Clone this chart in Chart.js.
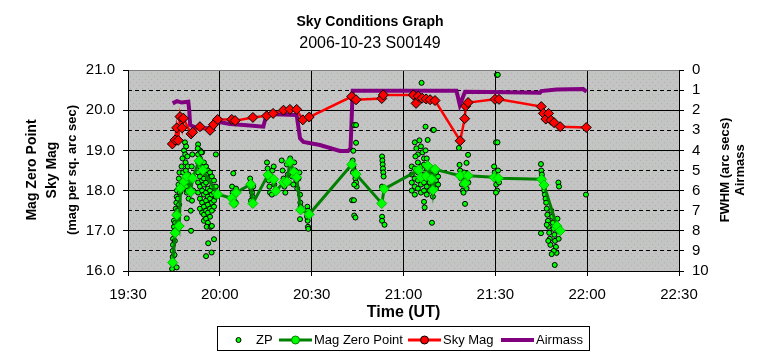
<!DOCTYPE html>
<html>
<head>
<meta charset="utf-8">
<script src="https://cdn.jsdelivr.net/npm/chart.js@4.4.1/dist/chart.umd.min.js"></script>
<style>
  html, body { margin: 0; padding: 0; background: #fff; }
  #skyChart { display: block; }
</style>
</head>
<body>
<canvas id="skyChart" width="762" height="358"></canvas>
<script>
// time values are minutes after 19:00 UT
var xTicks = [30, 60, 90, 120, 150, 180, 210];

// ZP: individual zero point measurements [minutes, mag]
var zpPoints = [
  [44.4,16.05],[44.4,16.2],[44.6,16.35],[44.6,16.5],[44.7,16.65],[44.7,16.8],[44.9,16.95],[45.0,17.1],[45.0,17.25],
  [45.2,16.4],[45.3,16.75],[45.3,17.0],[45.4,17.2],[45.5,17.4],[45.6,17.55],[45.8,17.7],[45.9,17.85],[46.0,18.0],
  [46.1,17.5],[46.3,17.3],[46.3,17.8],[46.5,18.15],[46.6,18.3],[46.7,17.65],[46.8,18.45],[47.0,17.95],[45.9,16.09],
  [47.5,18.6],[47.6,18.2],[47.8,18.8],[48.0,18.45],[48.2,18.05],[48.3,19.0],[48.6,19.2],[48.7,18.9],[48.8,18.7],
  [48.9,18.5],[49.0,18.3],[49.1,18.1],[49.2,17.95],[49.0,19.1],[49.4,18.85],[49.5,18.6],[49.5,18.0],[49.7,18.4],
  [49.8,17.8],[50.0,18.2],[50.6,17.0],[49.2,17.31],[50.5,17.5],[51.0,18.9],[50.8,18.6],[51.2,18.35],[51.3,18.0],[50.9,17.75],
  [52.9,19.15],[52.9,18.9],[52.9,18.7],[52.9,18.45],[52.9,18.2],[52.9,17.95],
  [53.5,19.0],[53.5,18.8],[53.5,18.6],[53.5,18.35],[53.5,18.1],[53.5,17.8],[53.5,17.55],
  [54.2,18.95],[54.2,18.65],[54.2,18.5],[54.2,18.25],[54.2,18.0],[54.2,17.7],[54.2,17.45],
  [54.8,18.7],[54.8,18.55],[54.8,18.3],[54.8,18.15],[54.8,17.9],[54.8,17.6],[54.8,17.4],[54.8,17.25],
  [55.5,18.6],[55.5,18.4],[55.5,18.2],[55.5,17.95],[55.5,17.75],[55.5,17.5],[55.5,17.3],
  [56.1,18.5],[56.1,18.3],[56.1,18.05],[56.1,17.85],[56.1,17.65],[56.1,17.45],[56.1,17.2],
  [56.8,18.45],[56.8,18.25],[56.8,18.0],[56.8,17.8],[56.8,17.55],[56.8,17.35],[56.8,17.1],
  [57.4,18.35],[57.4,18.1],[57.4,17.9],[57.4,17.7],[57.4,17.5],
  [58.1,18.25],[58.1,17.95],[58.1,17.75],[58.1,17.6],[58.7,18.9],[58.7,18.1],[58.7,17.85],
  [55.5,16.37],[56.2,16.69],[57.3,16.46],[58.1,16.79],[55.7,17.1],[57.0,17.1],[57.4,17.12],[52.8,19.05],[53.9,18.95],
  [64.0,18.1],[64.2,17.95],[64.4,17.85],[64.6,17.75],[64.8,17.65],[65.0,17.9],[65.3,18.05],[64.4,18.43],[65.2,17.7],
  [69.9,18.3],[70.1,18.2],[70.3,18.05],[70.5,17.95],[70.7,17.85],[70.2,17.75],[70.9,18.1],
  [75.4,18.7],[75.6,18.55],[75.8,18.4],[76.0,18.25],[76.2,18.1],[76.4,17.95],[76.8,18.35],[77.2,18.5],[77.6,18.6],
  [77.8,18.15],[78.2,18.0],[77.0,17.9],
  [80.2,18.75],[80.5,18.5],[80.8,18.3],[81.1,18.1],[81.4,17.95],[81.9,18.65],[82.2,18.4],[82.6,18.2],[83.0,18.8],
  [83.3,18.55],[83.6,18.35],[84.0,18.15],[84.3,18.7],[84.6,18.5],[85.0,18.25],[85.3,18.05],[85.7,18.3],[86.0,18.45],
  [86.2,17.9],[86.3,17.7],[86.2,17.29],[86.4,17.6],[88.6,17.6],[88.8,17.5],[88.7,17.25],[88.8,17.1],[88.9,17.05],[88.5,17.35],
  [103.9,19.63],[104.5,19.63],[104.5,19.19],[103.6,18.99],[103.4,18.75],[103.6,18.6],[103.9,18.5],[104.1,18.4],
  [104.3,18.3],[104.5,18.2],[104.7,18.1],[103.5,18.45],[103.9,18.15],[103.2,17.76],[103.8,17.76],[103.9,17.38],[104.3,17.33],
  [113.0,18.85],[113.1,18.75],[113.2,18.65],[113.3,18.55],[113.4,18.45],[113.5,18.35],[113.0,18.1],[113.0,17.35],
  [113.0,17.25],[113.8,17.15],
  [123.7,19.2],[124.2,19.05],[124.7,18.9],[125.2,19.25],[125.7,19.1],[126.2,18.95],[126.7,18.8],[127.2,19.0],[123.9,18.85],[127.6,18.8],
  [122.7,18.6],[122.7,18.4],[122.7,18.2],[122.7,18.0],[123.7,18.55],[123.7,18.3],[123.7,18.1],[123.7,17.9],
  [124.7,18.7],[124.7,18.45],[124.7,18.25],[124.7,18.05],[125.7,18.6],[125.7,18.35],[125.7,18.15],[125.7,17.95],
  [126.7,18.65],[126.7,18.4],[126.7,18.2],[126.7,18.0],[127.6,18.55],[127.6,18.3],[127.6,18.1],[127.6,17.9],
  [128.6,18.6],[128.6,18.4],[128.6,18.2],[128.6,18.0],[129.6,18.5],[129.6,18.3],[129.6,18.1],[129.6,17.85],
  [130.6,18.45],[130.6,18.25],[130.6,18.05],[131.3,18.35],[131.3,18.15],
  [125.9,20.68],[127.2,19.59],[129.6,19.51],[129.9,19.51],[127.9,19.26],[126.7,17.72],[126.9,17.58],[129.3,17.2],
  [138.1,19.06],[141.1,18.89],[140.6,18.69],[138.3,18.64],[138.5,18.5],[138.8,18.3],[139.1,18.15],[139.4,18.0],
  [139.8,18.45],[140.2,18.25],[140.6,18.05],[141.0,18.4],[141.2,18.2],[139.6,17.95],[140.1,17.67],
  [149.6,18.6],[149.8,18.45],[150.0,18.3],[150.3,18.15],[150.6,18.0],[150.9,18.5],[151.2,18.2],[150.2,17.95],
  [150.5,20.88],[150.8,20.88],[150.2,19.2],[150.7,19.2],
  [164.9,18.66],[165.0,18.5],[165.2,18.4],[165.4,18.3],[165.6,18.2],[165.8,18.1],[166.0,18.0],[166.2,17.9],[166.4,17.8],
  [166.6,17.7],[166.8,17.55],[167.0,17.4],[167.2,17.25],[167.4,17.1],[167.6,16.95],[167.8,16.8],[168.0,16.65],
  [166.8,17.15],[167.3,16.75],[168.3,17.5],[168.6,17.35],[168.8,17.2],[169.0,17.05],[169.3,16.9],[169.5,16.75],
  [169.8,16.6],[170.0,16.45],[170.3,17.3],[170.5,17.0],[170.7,16.8],[169.1,16.5],[168.4,16.42],
  [164.9,16.94],[170.6,18.2],[170.8,18.1],[169.4,16.15],[179.6,17.9]
];

// Mag Zero Point (averaged) [minutes, mag]
var magZeroPoint = [
  [44.6,16.21],[45.4,16.95],[45.9,17.39],[46.7,17.12],[47.2,18.06],[48.3,18.22],[49.2,18.35],[50.5,17.97],
  [51.1,18.31],[53.2,18.74],[54.4,18.51],[59.3,17.91],[63.9,17.81],[64.6,17.68],[65.3,17.95],[70.1,18.16],
  [70.8,17.68],[75.7,18.39],[77.6,18.28],[78.3,17.99],[80.8,18.2],[81.9,18.22],[82.9,18.72],[84.2,18.46],
  [85.1,18.33],[86.4,17.52],[89.2,17.41],[103.1,18.65],[104.5,18.41],[112.9,17.68],[113.7,18.04],[124.9,18.51],
  [125.7,18.33],[127.4,18.36],[127.9,18.62],[129.2,18.29],[129.6,18.01],[130.3,18.53],[138.5,18.37],[140.1,18.18],
  [141.1,18.37],[149.6,18.33],[151.0,18.31],[165.1,18.28],[165.9,18.14],[170.1,17.12],[171.2,17.0]
];

// Sky Mag [minutes, mag per sq. arc sec]
var skyMag = [
  [44.5,19.16],[45.4,19.26],[45.9,19.56],[46.4,19.25],[47.0,19.84],[47.7,19.56],[48.1,19.80],[50.6,19.41],
  [51.1,19.45],[53.5,19.59],[56.8,19.50],[57.9,19.64],[59.3,19.77],[63.9,19.77],[65.0,19.74],[70.8,19.82],
  [75.3,19.86],[77.4,19.92],[80.8,20.0],[82.9,20.02],[85.1,20.02],[87.1,19.76],[89.2,19.83],[103.1,20.34],
  [104.5,20.26],[112.9,20.29],[113.4,20.38],[123.2,20.38],[124.1,20.17],[124.8,20.35],[126.1,20.30],[127.4,20.28],
  [128.7,20.26],[130.3,20.24],[138.5,19.24],[140.0,19.79],[140.3,20.10],[141.1,20.19],[149.9,20.27],[151.2,20.27],
  [165.0,20.09],[165.7,19.92],[166.5,19.78],[167.4,19.92],[168.2,19.75],[169.2,19.69],[171.2,19.59],[179.7,19.57]
];

// Airmass (right axis) [minutes, airmass]
var airmass = [
  [44.6,1.66],[46.0,1.55],[47.5,1.62],[49.7,1.58],[50.0,2.0],[50.3,2.74],[52.5,2.9],[57.9,2.9],[59.0,2.57],
  [63.3,2.69],[68.8,2.75],[74.2,2.82],[75.3,2.19],[85.1,2.24],[86.2,3.4],[87.3,3.58],[92.7,3.73],[99.2,4.03],
  [101.9,4.03],[102.7,3.9],[103.4,1.03],[137.3,1.03],[138.4,1.74],[140.1,1.08],[148.0,1.1],[164.6,1.13],
  [165.0,1.05],[170.0,0.97],[178.7,0.95],[179.8,1.08]
];

var fontFamily = '"Liberation Sans", Arial, sans-serif';

function toXY(arr) {
  return arr.map(function (p) { return { x: p[0], y: p[1] }; });
}

function timeLabel(v) {
  var h = 19 + Math.floor(v / 60);
  var m = v % 60;
  return h + ':' + (m < 10 ? '0' + m : m);
}

// stippled grey plot background
var bgTile = document.createElement('canvas');
bgTile.width = 6;
bgTile.height = 6;
(function () {
  var c = bgTile.getContext('2d');
  c.fillStyle = '#c4c4c4';
  c.fillRect(0, 0, 6, 6);
  c.fillStyle = '#a8b6a8';
  c.fillRect(1, 1, 1, 1);
  c.fillRect(4, 4, 1, 1);
})();

var plotBackground = {
  id: 'plotBackground',
  beforeDraw: function (chart) {
    var ctx = chart.ctx;
    var a = chart.chartArea;
    ctx.save();
    ctx.fillStyle = '#ffffff';
    ctx.fillRect(0, 0, chart.width, chart.height);
    ctx.fillStyle = ctx.createPattern(bgTile, 'repeat');
    ctx.fillRect(a.left, a.top, a.right - a.left, a.bottom - a.top);
    ctx.restore();
  }
};

function rotatedText(ctx, text, x, y, font) {
  ctx.save();
  ctx.translate(x, y);
  ctx.rotate(-Math.PI / 2);
  ctx.font = font;
  ctx.textAlign = 'center';
  ctx.textBaseline = 'middle';
  ctx.fillText(text, 0, 0);
  ctx.restore();
}

var textAndLegend = {
  id: 'textAndLegend',
  afterDraw: function (chart) {
    var ctx = chart.ctx;
    ctx.save();
    ctx.fillStyle = '#000';
    ctx.textAlign = 'center';
    ctx.textBaseline = 'middle';
    ctx.font = 'bold 14px ' + fontFamily;
    ctx.fillText('Sky Conditions Graph', 370, 22);
    ctx.font = '16px ' + fontFamily;
    ctx.fillText('2006-10-23 S00149', 370, 44);

    rotatedText(ctx, 'Mag Zero Point', 32, 170, 'bold 14px ' + fontFamily);
    rotatedText(ctx, 'Sky Mag', 52, 170, 'bold 14px ' + fontFamily);
    rotatedText(ctx, '(mag per sq. arc sec)', 72, 170, 'bold 13px ' + fontFamily);
    rotatedText(ctx, 'FWHM (arc secs)', 725, 170, 'bold 13px ' + fontFamily);
    rotatedText(ctx, 'Airmass', 740, 170, 'bold 13px ' + fontFamily);

    // legend box
    var ly = 340;
    ctx.fillStyle = '#fff';
    ctx.fillRect(217.5, 326.5, 372, 24);
    ctx.strokeStyle = '#000';
    ctx.lineWidth = 1;
    ctx.strokeRect(217.5, 326.5, 372, 24);

    ctx.font = '13px ' + fontFamily;
    ctx.textAlign = 'left';

    // ZP
    ctx.beginPath();
    ctx.arc(238.5, ly, 2.5, 0, Math.PI * 2);
    ctx.fillStyle = '#00ff00';
    ctx.fill();
    ctx.strokeStyle = '#000';
    ctx.stroke();
    ctx.fillStyle = '#000';
    ctx.fillText('ZP', 256, ly);

    var items = [
      { x1: 279, x2: 312, color: '#008000', lw: 3, marker: '#00ff00', mborder: '#008000', text: 'Mag Zero Point', tx: 314 },
      { x1: 408, x2: 441, color: '#ff0000', lw: 3, marker: '#ff0000', mborder: '#000', text: 'Sky Mag', tx: 443 },
      { x1: 501, x2: 534, color: '#800080', lw: 4, marker: null, text: 'Airmass', tx: 536 }
    ];
    items.forEach(function (it) {
      ctx.beginPath();
      ctx.moveTo(it.x1, ly);
      ctx.lineTo(it.x2, ly);
      ctx.strokeStyle = it.color;
      ctx.lineWidth = it.lw;
      ctx.stroke();
      if (it.marker) {
        ctx.beginPath();
        ctx.arc((it.x1 + it.x2) / 2, ly, 4, 0, Math.PI * 2);
        ctx.fillStyle = it.marker;
        ctx.fill();
        ctx.lineWidth = 1;
        ctx.strokeStyle = it.mborder;
        ctx.stroke();
      }
      ctx.fillStyle = '#000';
      ctx.fillText(it.text, it.tx, ly);
    });
    ctx.restore();
  }
};

document.addEventListener('DOMContentLoaded', function () {
  var el = document.getElementById('skyChart');
  Chart.defaults.font.family = fontFamily;
  Chart.defaults.color = '#000';

  var skyChart = new Chart(el, {
    type: 'scatter',
    data: {
      datasets: [
        {
          label: 'Sky Mag',
          data: toXY(skyMag),
          yAxisID: 'y',
          showLine: true,
          borderColor: '#ff0000',
          borderWidth: 2.5,
          pointStyle: 'rectRot',
          pointRadius: 5,
          pointBackgroundColor: '#ff0000',
          pointBorderColor: '#000',
          pointBorderWidth: 1,
          order: 0
        },
        {
          label: 'Mag Zero Point',
          data: toXY(magZeroPoint),
          yAxisID: 'y',
          showLine: true,
          borderColor: '#008000',
          borderWidth: 3,
          pointStyle: 'rectRot',
          pointRadius: 5,
          pointBackgroundColor: '#00ff00',
          pointBorderColor: '#00c000',
          pointBorderWidth: 1,
          order: 1
        },
        {
          label: 'ZP',
          data: toXY(zpPoints),
          yAxisID: 'y',
          showLine: false,
          pointStyle: 'circle',
          pointRadius: 2.5,
          pointBackgroundColor: '#00ff00',
          pointBorderColor: '#000',
          pointBorderWidth: 1,
          order: 2
        },
        {
          label: 'Airmass',
          data: toXY(airmass),
          yAxisID: 'y2',
          showLine: true,
          borderColor: '#800080',
          borderWidth: 4,
          pointRadius: 0,
          order: 3
        }
      ]
    },
    options: {
      responsive: false,
      animation: false,
      maintainAspectRatio: false,
      layout: { padding: { top: 70, left: 0, right: 0, bottom: 0 } },
      plugins: {
        legend: { display: false },
        title: { display: false },
        tooltip: { enabled: false }
      },
      scales: {
        x: {
          type: 'linear',
          position: 'bottom',
          min: 30,
          max: 210,
          afterFit: function (s) { s.height = 87; },
          afterBuildTicks: function (s) {
            s.ticks = xTicks.map(function (v) { return { value: v }; });
          },
          ticks: {
            font: { size: 15 },
            padding: 10,
            autoSkip: false,
            maxRotation: 0,
            callback: function (v) { return timeLabel(v); }
          },
          grid: { color: '#000', lineWidth: 1, tickLength: 5, tickColor: '#000' },
          border: { color: '#000', width: 1 },
          title: {
            display: true,
            text: 'Time (UT)',
            font: { size: 16, weight: 'bold' },
            padding: { top: 0, bottom: 36 }
          }
        },
        y: {
          type: 'linear',
          position: 'left',
          min: 16,
          max: 21,
          afterFit: function (s) { s.width = 128; },
          ticks: {
            stepSize: 1,
            autoSkip: false,
            font: { size: 15 },
            padding: 8,
            callback: function (v) { return v.toFixed(1); }
          },
          grid: {
            color: function (c) { return c.tick && c.tick.value === 21 ? '#808080' : '#000'; },
            lineWidth: 1,
            tickLength: 5,
            tickColor: '#000'
          },
          border: { color: '#000', width: 1 }
        },
        y2: {
          type: 'linear',
          position: 'right',
          min: 0,
          max: 10,
          reverse: true,
          afterFit: function (s) { s.width = 83; },
          ticks: {
            stepSize: 1,
            autoSkip: false,
            font: { size: 15 },
            padding: 8
          },
          grid: {
            color: function (c) { return c.tick && c.tick.value % 2 === 1 ? '#000' : 'rgba(0,0,0,0)'; },
            lineWidth: 1,
            tickLength: 5,
            tickColor: '#000'
          },
          border: { color: '#000', width: 1, dash: [4, 3] }
        }
      }
    },
    plugins: [plotBackground, textAndLegend]
  });
});
</script>
</body>
</html>
